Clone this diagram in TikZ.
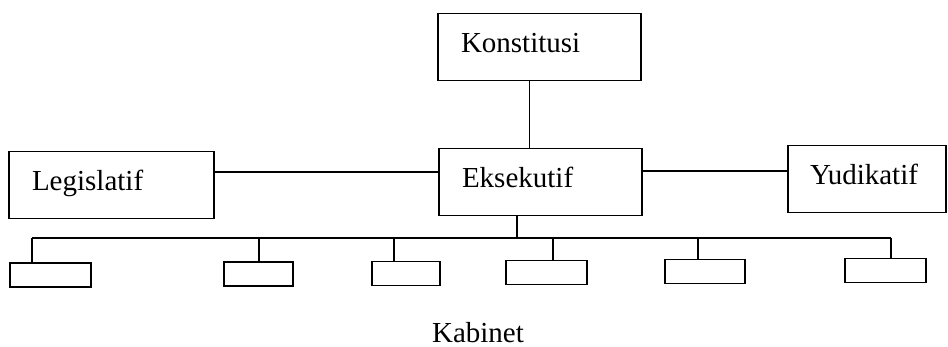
\documentclass[tikz,border=0pt]{standalone}
\usepackage{fontspec}
\setmainfont{Liberation Serif}
\begin{document}
\begin{tikzpicture}[x=1pt,y=-1pt,line width=1.8pt,
  box/.style = {draw, minimum height=67pt, inner xsep=23pt, align=left,
    text height=20pt, text depth=8pt, font=\fontsize{29}{34}\selectfont},
  kbox/.style = {draw, minimum height=24pt, inner sep=0pt}]
\useasboundingbox (0,0) rectangle (948,347);
\node[box, text width=157pt] (konstitusi) at (539.5,47) {Konstitusi};
\node[box, text width=159pt] (legislatif) at (111.5,185) {Legislatif};
\node[box, text width=157pt] (eksekutif) at (540.5,182) {Eksekutif};
\node[box, text width=114pt, inner xsep=22pt] (yudikatif) at (867,179) {Yudikatif};
\node[font=\fontsize{29}{34}\selectfont, inner sep=0pt, anchor=base] (kabinet) at (478,342) {Kabinet};
\draw ([xshift=-10pt]konstitusi.south) -- ([xshift=-10pt]konstitusi.south |- eksekutif.north);
\draw ([yshift=13pt]legislatif.east) -- ([yshift=13pt]legislatif.east -| eksekutif.west);
\draw ([yshift=11pt]eksekutif.east) -- ([yshift=11pt]eksekutif.east -| yudikatif.west);
\foreach \i/\cx/\cy/\w/\sx in {1/50.5/275/81/32, 2/258.5/274/69/259, 3/406/273.5/68/394,
    4/546.5/272.5/81/553, 5/705/271.5/80/698, 6/885.5/270.5/81/891} {
  \node[kbox, minimum width=\w pt] (k\i) at (\cx,\cy) {};
  \coordinate (s\i) at (\sx,238);
  \draw (s\i) -- (s\i |- k\i.north);
}
\coordinate (es) at (517,238);
\draw (s1) -- (s6);
\draw (es |- eksekutif.south) -- (es);
\end{tikzpicture}
\end{document}
